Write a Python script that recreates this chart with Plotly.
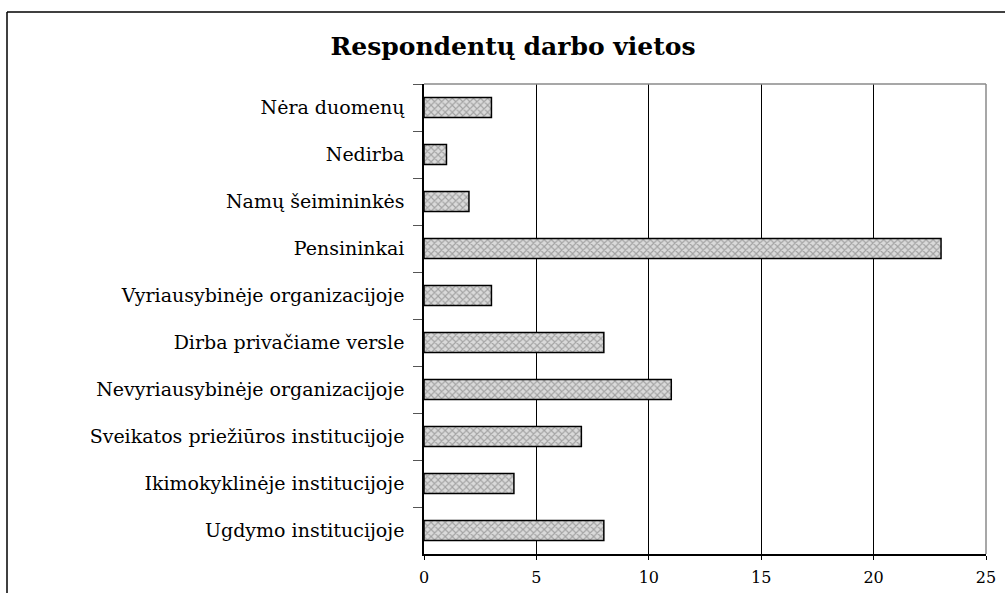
import plotly.graph_objects as go

categories = [
    "Nėra duomenų",
    "Nedirba",
    "Namų šeimininkės",
    "Pensininkai",
    "Vyriausybinėje organizacijoje",
    "Dirba privačiame versle",
    "Nevyriausybinėje organizacijoje",
    "Sveikatos priežiūros institucijoje",
    "Ikimokyklinėje institucijoje",
    "Ugdymo institucijoje",
]
values = [3, 1, 2, 23, 3, 8, 11, 7, 4, 8]
x_ticks = [0, 5, 10, 15, 20, 25]
title = "Respondentų darbo vietos"

W, H = 1005, 593
L, R, T, B = 424, 19, 84, 39
pw, ph = W - L - R, H - T - B
FONT = "DejaVu Serif"

def px(x):
    return (x - L) / pw

def py(y):
    return (H - B - y) / ph

fig = go.Figure(
    go.Bar(
        x=values,
        y=categories,
        orientation="h",
        width=0.43,
        marker=dict(
            color="#d9d9d9",
            line=dict(color="black", width=1.5),
            pattern=dict(shape="x", fgcolor="#6a6a6a", bgcolor="#dadada", size=5, solidity=0.4),
        ),
    )
)

fig.update_layout(
    width=W,
    height=H,
    margin=dict(l=L, r=R, t=T, b=B, pad=0, autoexpand=False),
    paper_bgcolor="white",
    plot_bgcolor="white",
    showlegend=False,
    title=dict(
        text="<b>" + title + "</b>",
        x=px(513),
        xref="paper",
        xanchor="center",
        y=1 - 46 / H,
        yref="container",
        yanchor="middle",
        font=dict(family=FONT, size=25, color="black"),
    ),
    xaxis=dict(
        range=[0, 25],
        tickvals=x_ticks,
        ticktext=[str(v) for v in x_ticks],
        showgrid=True,
        gridcolor="black",
        gridwidth=1,
        zeroline=False,
        showline=True,
        linecolor="black",
        linewidth=1.5,
        ticks="outside",
        ticklen=4,
        tickcolor="black",
        ticklabelstandoff=4,
        automargin=False,
        tickfont=dict(family=FONT, size=16, color="black"),
    ),
    yaxis=dict(
        categoryorder="array",
        categoryarray=categories,
        autorange="reversed",
        showgrid=False,
        zeroline=False,
        showline=True,
        linecolor="black",
        linewidth=1.5,
        ticks="outside",
        tickson="boundaries",
        ticklen=9,
        tickcolor="#555",
        ticklabelstandoff=14,
        automargin=False,
        tickfont=dict(family=FONT, size=19, color="black"),
    ),
    shapes=[
        dict(type="line", xref="paper", yref="paper", x0=0, x1=1, y0=1, y1=1,
             line=dict(color="#8a8a8a", width=1.5)),
        dict(type="line", xref="paper", yref="paper", x0=1, x1=1, y0=0, y1=1,
             line=dict(color="#8a8a8a", width=1.5)),
        dict(type="line", xref="paper", yref="paper", x0=px(7), x1=px(1005), y0=py(12), y1=py(12),
             line=dict(color="black", width=1.5)),
        dict(type="line", xref="paper", yref="paper", x0=px(7), x1=px(7), y0=py(12), y1=py(593),
             line=dict(color="black", width=1.5)),
    ],
)

fig.write_html("out.html")
